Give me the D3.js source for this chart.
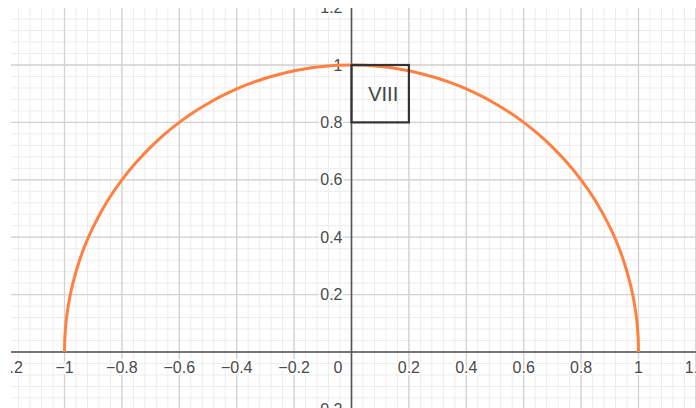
<!DOCTYPE html>
<html><head><meta charset="utf-8">
<script src="https://cdn.jsdelivr.net/npm/d3@7"></script>
<style>html,body{margin:0;padding:0;background:#fff;overflow:hidden}</style>
</head><body>
<script>
// Curve points (right half; left half is its mirror in the picture)
const curveXRight = [0, 0.05, 0.1, 0.15, 0.2, 0.25, 0.3, 0.35, 0.4, 0.45, 0.5, 0.55, 0.6, 0.65, 0.7, 0.75, 0.8, 0.85, 0.9, 0.93, 0.95, 0.97, 0.98, 0.99, 0.995, 0.999, 1];
const curveYRight = [1, 0.999, 0.995, 0.989, 0.98, 0.968, 0.954, 0.937, 0.917, 0.893, 0.866, 0.835, 0.8, 0.76, 0.714, 0.661, 0.6, 0.527, 0.436, 0.368, 0.312, 0.243, 0.199, 0.141, 0.1, 0.045, 0];
const xTicks = [-1.2, -1, -0.8, -0.6, -0.4, -0.2, 0.2, 0.4, 0.6, 0.8, 1, 1.2];
const yTicks = [-0.2, 0.2, 0.4, 0.6, 0.8, 1, 1.2];
const boxCorners = [[0, 0.8], [0.2, 1]];
const boxLabel = "VIII";

(function () {
const W = 696, H = 408;
const padL = 11, padT = 8;
const x = d3.scaleLinear().domain([-1, 1]).range([64.5, 638.5]);
const y = d3.scaleLinear().domain([0, 1]).range([352, 65]);

const svg = d3.select("body").append("svg").attr("width", W).attr("height", H)
  .style("font-family", "'Liberation Sans', Arial, sans-serif");

svg.append("defs").append("clipPath").attr("id", "clip")
  .append("rect").attr("x", padL).attr("y", padT).attr("width", W - padL).attr("height", H - padT);

const g = svg.append("g").attr("clip-path", "url(#clip)");

const xMin = x.invert(padL), xMax = x.invert(W), yMin = y.invert(H), yMax = y.invert(padT);
const minorStep = 0.04, majorStep = 0.2;
const minorX = d3.range(Math.ceil(xMin / minorStep), Math.floor(xMax / minorStep) + 1).map(i => i * minorStep);
const minorY = d3.range(Math.ceil(yMin / minorStep), Math.floor(yMax / minorStep) + 1).map(i => i * minorStep);
const majorX = d3.range(Math.ceil(xMin / majorStep), Math.floor(xMax / majorStep) + 1).map(i => i * majorStep);
const majorY = d3.range(Math.ceil(yMin / majorStep), Math.floor(yMax / majorStep) + 1).map(i => i * majorStep);

g.selectAll(".mx").data(minorX).enter().append("line")
  .attr("x1", d => x(d)).attr("x2", d => x(d)).attr("y1", padT).attr("y2", H)
  .attr("stroke", "#ececec").attr("stroke-width", 1);
g.selectAll(".my").data(minorY).enter().append("line")
  .attr("y1", d => y(d)).attr("y2", d => y(d)).attr("x1", padL).attr("x2", W)
  .attr("stroke", "#ececec").attr("stroke-width", 1);
g.selectAll(".Mx").data(majorX).enter().append("line")
  .attr("x1", d => x(d)).attr("x2", d => x(d)).attr("y1", padT).attr("y2", H)
  .attr("stroke", "#d2d2d2").attr("stroke-width", 1.3);
g.selectAll(".My").data(majorY).enter().append("line")
  .attr("y1", d => y(d)).attr("y2", d => y(d)).attr("x1", padL).attr("x2", W)
  .attr("stroke", "#d2d2d2").attr("stroke-width", 1.3);

// axes
g.append("line").attr("x1", padL).attr("x2", W).attr("y1", y(0)).attr("y2", y(0))
  .attr("stroke", "#555").attr("stroke-width", 1.6);
g.append("line").attr("x1", x(0)).attr("x2", x(0)).attr("y1", padT).attr("y2", H)
  .attr("stroke", "#555").attr("stroke-width", 1.6);

// tick labels (clipped to the graphics view like the reference)
const fmt = v => (v < 0 ? "\u2212" : "") + String(+Math.abs(v).toFixed(2));
const labStyle = sel => sel.attr("fill", "#4a4a4a").attr("font-size", 16)
  .attr("stroke", "#fff").attr("stroke-width", 4).attr("paint-order", "stroke").attr("stroke-linejoin", "round");

g.selectAll(".xl").data(xTicks).enter().append("text")
  .attr("x", d => x(d)).attr("y", y(0) + 21).attr("text-anchor", "middle")
  .text(fmt).call(labStyle);
g.selectAll(".yl").data(yTicks).enter().append("text")
  .attr("x", x(0) - 9).attr("y", d => y(d) + 5.5).attr("text-anchor", "end")
  .text(fmt).call(labStyle);
g.append("text").attr("x", x(0) - 9).attr("y", y(0) + 21).attr("text-anchor", "end")
  .text("0").call(labStyle);

// curve
const right = curveXRight.map((v, i) => [v, curveYRight[i]]);
const leftHalf = right.slice(1).map(d => [-d[0], d[1]]).reverse();
const pts = leftHalf.concat(right);
svg.append("path").datum(pts)
  .attr("d", d3.line().x(d => x(d[0])).y(d => y(d[1])).curve(d3.curveCatmullRom.alpha(0.5)))
  .attr("fill", "none").attr("stroke", "#ff8040").attr("stroke-width", 3);

// box
svg.append("rect")
  .attr("x", x(boxCorners[0][0])).attr("y", y(boxCorners[1][1]))
  .attr("width", x(boxCorners[1][0]) - x(boxCorners[0][0]))
  .attr("height", y(boxCorners[0][1]) - y(boxCorners[1][1]))
  .attr("fill", "none").attr("stroke", "#333").attr("stroke-width", 2.2);
svg.append("text")
  .attr("x", x((boxCorners[0][0] + boxCorners[1][0]) / 2) + 3)
  .attr("y", y((boxCorners[0][1] + boxCorners[1][1]) / 2) + 7)
  .attr("text-anchor", "middle").attr("font-size", 20).attr("fill", "#444")
  .text(boxLabel);
})();
</script>
</body></html>
